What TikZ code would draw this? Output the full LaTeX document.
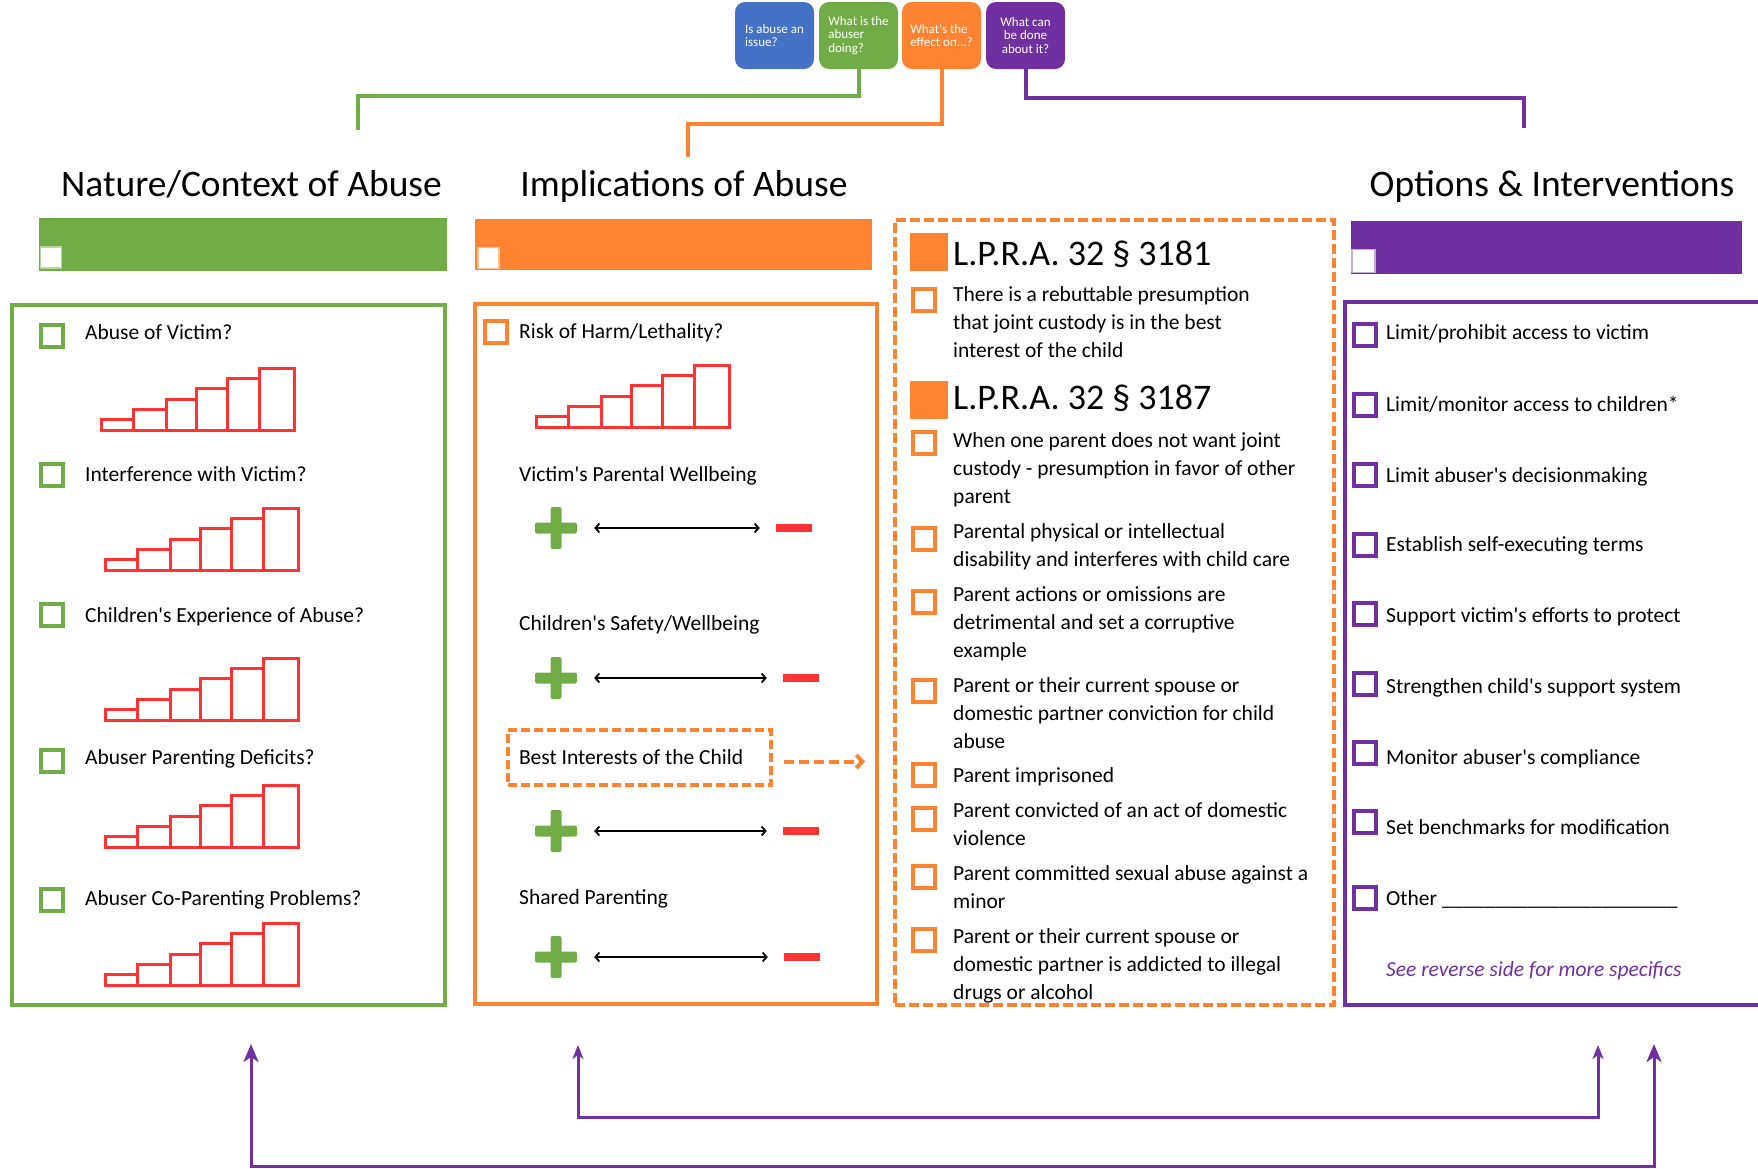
\documentclass[tikz,border=0pt]{standalone}
\usepackage{fontspec}
\setmainfont{Carlito}
\newfontfamily\carl{Carlito}
\usetikzlibrary{arrows.meta}
\definecolor{cblue}{HTML}{4472C4}
\definecolor{cgreen}{HTML}{70AD47}
\definecolor{corange}{HTML}{FF8431}
\definecolor{cpurple}{HTML}{7030A0}
\definecolor{cred}{HTML}{FF3333}

\begin{document}
\begin{tikzpicture}[x=1pt,y=-1pt]
		\tikzstyle{Q}=[rectangle,rounded corners=10,minimum width=79,minimum height=67,inner sep=0,text=white,font=\carl\fontsize{13}{13.5}\selectfont]
		\tikzstyle{T}=[anchor=base,inner sep=0,font=\carl\fontsize{37.5}{40}\selectfont]
		\tikzstyle{X}=[anchor=base west,inner sep=0,align=left,font=\carl\fontsize{21.5}{27.8}\selectfont]
		\tikzstyle{CB}=[rectangle,draw,line width=4,minimum size=22,inner sep=0]
		\tikzstyle{W}=[rectangle,fill=white,line width=1.5,minimum size=21,inner sep=0]
		\tikzstyle{SQ}=[rectangle,fill=corange,minimum size=38,inner sep=0]
		\tikzstyle{PL}=[rectangle,minimum size=42,inner sep=0]
		\tikzstyle{MI}=[rectangle,fill=cred,minimum width=36,minimum height=8,inner sep=0]
		\tikzstyle{LR}=[{Straight Barb[length=4pt,width=9pt]}-{Straight Barb[length=4pt,width=9pt]},line width=1.8,shorten <=17,shorten >=16]
		\tikzstyle{UP}=[cpurple,line width=3,{Stealth[length=18pt,width=15pt,inset=5pt]}-{Stealth[length=18pt,width=15pt,inset=5pt]}]
		\useasboundingbox (0,0) rectangle (1758,1168);

		% questions on top
		\node[Q,fill=cblue,align=left] (q-1) at (774.5,35.5) {Is abuse an\\issue?};
		\node[Q,fill=cgreen,align=left] (q-2) at (858.5,35.5) {What is the\\abuser\\doing?};
		\node[Q,fill=corange,align=left] (q-3) at (941.5,35.5) {What's the\\effect on...?};
		\node[Q,fill=cpurple,align=center] (q-4) at (1025.5,35.5) {What can\\be done\\about it?};

		\node[T] (t-1) at (251.5,196) {Nature/Context of Abuse};
		\node[T] (t-2) at (684,196) {Implications of Abuse};
		\node[T] (t-3) at (1552,196) {Options \& Interventions};

		\coordinate (c-1) at (358,130);
		\coordinate (c-2) at (688,157);
		\coordinate (c-3) at (1524,128);
		\draw[cgreen,line width=4] (q-2.south) -- ++(0,27) -| (c-1);
		\draw[corange,line width=4] (q-3.south) -- ++(0,55) -| (c-2);
		\draw[cpurple,line width=4] (q-4.south) -- ++(0,29) -| (c-3);

		% header bars
		\fill[cgreen] (39,218) rectangle (447,271);
		\fill[corange] (475,219) rectangle (872,270);
		\fill[cpurple] (1351,221) rectangle (1742,274);
		\node[W,draw=cgreen!50] (w-1) at (51,257.5) {};
		\node[W,draw=corange!50] (w-2) at (488.5,258) {};
		\node[W,draw=cpurple!40,minimum size=23] (w-3) at (1363.5,261) {};

		% columns
		\draw[cgreen,line width=4] (12,305) rectangle (445,1005);
		\draw[corange,line width=4] (475,304) rectangle (877,1004);
		\node[draw=corange,line width=4,dash pattern=on 10pt off 4pt,minimum width=439,minimum height=785,inner sep=0] (lpra) at (1114.5,612.5) {};
		\draw[cpurple,line width=4] (1790,302) -- (1345,302) -- (1345,1005) -- (1790,1005);

		% nature / context
		\begin{scope}
		\node[CB,draw=cgreen] (n-1c) at (51.5,335.5) {};
		\node[CB,draw=cgreen] (n-2c) at (51.5,475)   {};
		\node[CB,draw=cgreen] (n-3c) at (51.5,614.5) {};
		\node[CB,draw=cgreen] (n-4c) at (51.5,761)   {};
		\node[CB,draw=cgreen] (n-5c) at (51.5,899.5) {};
		\node[X] (n-1) at (85,339) {Abuse of Victim?};
		\node[X] (n-2) at (85,481) {Interference with Victim?};
		\node[X] (n-3) at (85,622) {Children's Experience of Abuse?};
		\node[X] (n-4) at (85,764) {Abuser Parenting Deficits?};
		\node[X] (n-5) at (85,905) {Abuser Co-Parenting Problems?};
		\end{scope}

		\foreach \cx/\cy in {101/430,105/570,105/720,105/847,105/985,536/427}
			\foreach \a/\b/\h in {0/32/11,32/65/21,65/95/31,95/126/42,126/158/52,158/193/62}
				\draw[cred,line width=3] (\cx+\a,\cy) rectangle (\cx+\b,\cy-\h);

		% implications
		\begin{scope}
		\node[CB,draw=corange] (i-1c) at (496,332) {};
		\node[X] (i-1) at (519,338) {Risk of Harm/Lethality?};
		\node[X] (i-2) at (519,481) {Victim's Parental Wellbeing};
		\node[X] (i-3) at (519,630) {Children's Safety/Wellbeing};
		\node[draw=corange,line width=4,dash pattern=on 9pt off 4pt,minimum width=263,minimum height=55,inner xsep=11,inner ysep=0,text width=241,align=flush left,font=\carl\fontsize{21.5}{27.8}\selectfont] (i-4) at (639.5,757.5) {Best Interests of the Child};
		\node[X] (i-5) at (519,904) {Shared Parenting};
		\node[PL] (p-1) at (556,528) {};
		\node[PL] (p-2) at (556,678) {};
		\node[PL] (p-3) at (556,831) {};
		\node[PL] (p-4) at (556,957) {};
		\node[MI] (m-1) at (794,528) {};
		\node[MI] (m-2) at (801,678) {};
		\node[MI] (m-3) at (801,831) {};
		\node[MI] (m-4) at (802,957) {};
		\end{scope}

		\foreach \p in {p-1,p-2,p-3,p-4}{
			\fill[cgreen,rounded corners=2] ([shift={(-21,-5.5)}]\p.center) rectangle ([shift={(21,5.5)}]\p.center);
			\fill[cgreen,rounded corners=2] ([shift={(-5.5,-21)}]\p.center) rectangle ([shift={(5.5,21)}]\p.center);
		}

		\path
		(p-1) edge[LR] (m-1)
		(p-2) edge[LR] (m-2)
		(p-3) edge[LR] (m-3)
		(p-4) edge[LR] (m-4)
		;
		\draw[corange,line width=4,dash pattern=on 10pt off 5pt,-{Straight Barb[length=6pt,width=13pt]},shorten <=11,shorten >=28] ([yshift=-4pt]i-4.east) -- ([yshift=-4pt]i-4.east -| lpra.west);

		% L.P.R.A. (multi-line texts sit on their last baseline)
		\begin{scope}
		\node[SQ] (l-1s) at (929,252) {};
		\node[X,font=\carl\fontsize{36}{40}\selectfont] (l-1) at (953,265) {L.P.R.A. 32 § 3181};
		\node[SQ] (l-2s) at (929,400) {};
		\node[X,font=\carl\fontsize{36}{40}\selectfont] (l-2) at (953,409) {L.P.R.A. 32 § 3187};
		\node[CB,draw=corange] (l-3c)  at (923.5,300)   {};
		\node[CB,draw=corange] (l-4c)  at (923.5,443)   {};
		\node[CB,draw=corange] (l-5c)  at (923.5,539)   {};
		\node[CB,draw=corange] (l-6c)  at (923.5,601.5) {};
		\node[CB,draw=corange] (l-7c)  at (923.5,690.5) {};
		\node[CB,draw=corange] (l-8c)  at (923.5,774.5) {};
		\node[CB,draw=corange] (l-9c)  at (923.5,818.5) {};
		\node[CB,draw=corange] (l-10c) at (923.5,876.5) {};
		\node[CB,draw=corange] (l-11c) at (923.5,940)   {};
		\node[X] (l-3)  at (953,357) {There is a rebuttable presumption\\that joint custody is in the best\\interest of the child};
		\node[X] (l-4)  at (953,503) {When one parent does not want joint\\custody - presumption in favor of other\\parent};
		\node[X] (l-5)  at (953,566) {Parental physical or intellectual\\disability and interferes with child care};
		\node[X] (l-6)  at (953,657) {Parent actions or omissions are\\detrimental and set a corruptive\\example};
		\node[X] (l-7)  at (953,748) {Parent or their current spouse or\\domestic partner conviction for child\\abuse};
		\node[X] (l-8)  at (953,782) {Parent imprisoned};
		\node[X] (l-9)  at (953,845) {Parent convicted of an act of domestic\\violence};
		\node[X] (l-10) at (953,908) {Parent committed sexual abuse against a\\minor};
		\node[X] (l-11) at (953,999) {Parent or their current spouse or\\domestic partner is addicted to illegal\\drugs or alcohol};
		\end{scope}

		% options
		\begin{scope}
		\node[CB,draw=cpurple] (o-1c) at (1364.5,334.5) {};
		\node[CB,draw=cpurple] (o-2c) at (1364.5,404.5) {};
		\node[CB,draw=cpurple] (o-3c) at (1364.5,474.5) {};
		\node[CB,draw=cpurple] (o-4c) at (1364.5,544.5) {};
		\node[CB,draw=cpurple] (o-5c) at (1364.5,614)   {};
		\node[CB,draw=cpurple] (o-6c) at (1364.5,683.5) {};
		\node[CB,draw=cpurple] (o-7c) at (1364.5,752.5) {};
		\node[CB,draw=cpurple] (o-8c) at (1364.5,822)   {};
		\node[CB,draw=cpurple] (o-9c) at (1364.5,897.5) {};
		\node[X] (o-1) at (1386,339) {Limit/prohibit access to victim};
		\node[X] (o-2) at (1386,411) {Limit/monitor access to children*};
		\node[X] (o-3) at (1386,482) {Limit abuser's decisionmaking};
		\node[X] (o-4) at (1386,551) {Establish self-executing terms};
		\node[X] (o-5) at (1386,622) {Support victim's efforts to protect};
		\node[X] (o-6) at (1386,693) {Strengthen child's support system};
		\node[X] (o-7) at (1386,764) {Monitor abuser's compliance};
		\node[X] (o-8) at (1386,834) {Set benchmarks for modification};
		\node[X] (o-9) at (1386,905) {Other \_\_\_\_\_\_\_\_\_\_\_\_\_\_\_\_\_\_\_\_\_\_};
		\node[X,text=cpurple,font=\carl\fontsize{21.5}{27.8}\selectfont\itshape] (o-10) at (1386,976) {See reverse side for more specifics};
		\end{scope}

		% feedback arrows
		\coordinate (b-1) at (251,1044);
		\coordinate (b-2) at (578,1045);
		\coordinate (b-3) at (1598,1045);
		\coordinate (b-4) at (1654,1044);
		\draw[UP] (b-1) -- ++(0,122) -| (b-4);
		\draw[UP,{Stealth[length=14pt,width=11pt,inset=4pt]}-{Stealth[length=14pt,width=11pt,inset=4pt]}] (b-2) -- ++(0,72) -| (b-3);

\end{tikzpicture}
\end{document}
